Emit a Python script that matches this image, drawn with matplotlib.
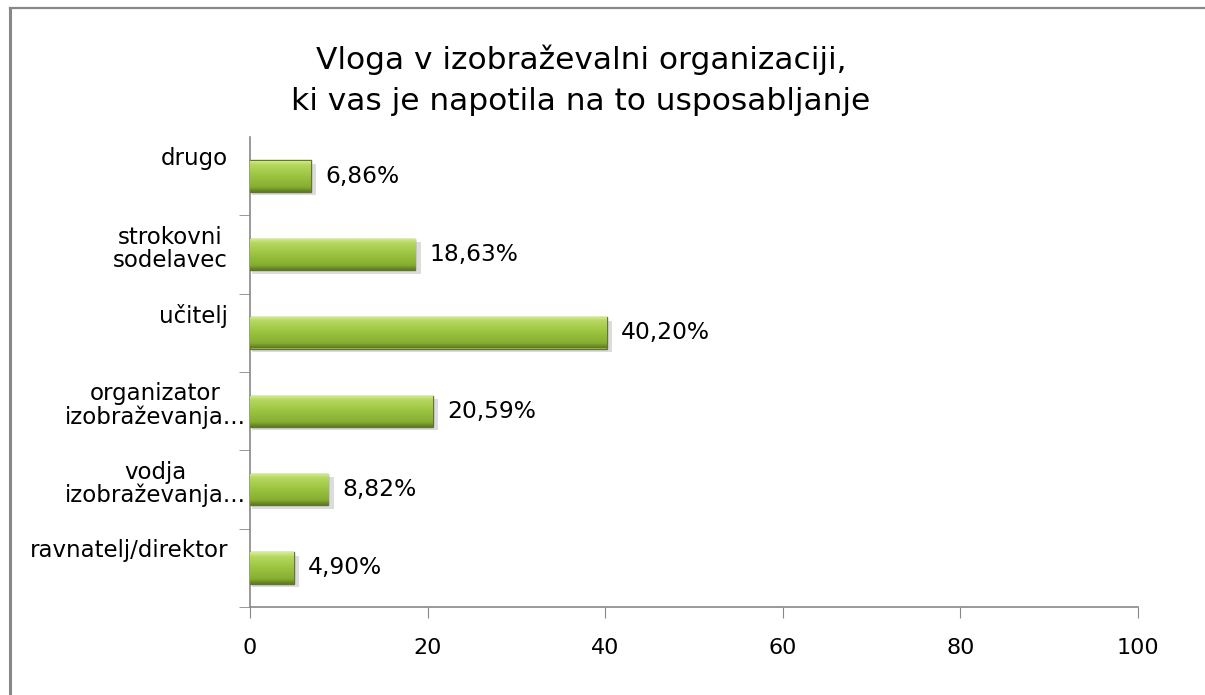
import numpy as np
import matplotlib
matplotlib.use("Agg")
from matplotlib import pyplot as plt
from matplotlib.lines import Line2D
from matplotlib.colors import LinearSegmentedColormap
from matplotlib.transforms import blended_transform_factory, ScaledTranslation

# data (bottom to top)
categories = ["ravnatelj/direktor", "vodja\nizobraževanja...", "organizator\nizobraževanja...",
              "učitelj", "strokovni\nsodelavec", "drugo"]
values = [4.90, 8.82, 20.59, 40.20, 18.63, 6.86]
value_labels = ["4,90%", "8,82%", "20,59%", "40,20%", "18,63%", "6,86%"]
xticks = [0, 20, 40, 60, 80, 100]

title = "Vloga v izobraževalni organizaciji,\nki vas je napotila na to usposabljanje"

plt.rcParams['font.family'] = ['DejaVu Sans']

W, H = 1205, 695
fig = plt.figure(figsize=(W / 100, H / 100), dpi=100)
ax = fig.add_axes([250 / W, 1 - 607 / H, (1138 - 250) / W, (607 - 137) / H])

y = np.arange(len(categories))
bar_h = 0.40
bars = ax.barh(y, values, height=bar_h, color="#9BBB59", edgecolor="#5f7a22", linewidth=1.0, zorder=3)

# soft shadow under the bars
for b in bars:
    ax.barh(b.get_y() + b.get_height() / 2 - 0.045, b.get_width() + 0.35, height=bar_h,
            left=0.25, color="#dcdcdc", zorder=2, linewidth=0)

# gradient fill (light top, dark bottom)
grad = LinearSegmentedColormap.from_list(
    "g", [(0, "#5d7b1c"), (0.15, "#86ad30"), (0.55, "#9fc743"), (0.85, "#b5d660"), (1, "#d6eb99")])
gvals = np.linspace(0, 1, 64).reshape(-1, 1)
for b in bars:
    x0, y0 = b.get_x(), b.get_y()
    w, h = b.get_width(), b.get_height()
    im = ax.imshow(gvals, cmap=grad, aspect="auto", origin="lower",
                   extent=[x0, x0 + w, y0, y0 + h], zorder=3.5)
    im.set_clip_path(b)

for i, (v, lab) in enumerate(zip(values, value_labels)):
    ax.text(v + 1.6, i, lab, va="center", ha="left", fontsize=16.8, color="black", zorder=5)

# category labels (Excel style: right aligned block, near the top of each band)
lab_trans = blended_transform_factory(fig.transFigure, ax.transData)
cat_texts = []
for i, c in enumerate(categories):
    t = ax.text(228 / W, i + 0.37, c, ha="right", va="top", ma="center", fontsize=16.5,
                color="black", linespacing=1.0, transform=lab_trans, clip_on=False)
    cat_texts.append(t)

ax.set_xlim(0, 100)
ax.set_ylim(-0.5, len(categories) - 0.5)
ax.set_xticks(xticks)
ax.set_xticklabels([str(t) for t in xticks], fontsize=16)
ax.set_yticks([])
ax.set_yticks(np.arange(len(categories)) - 0.5, minor=True)
ax.tick_params(axis="y", which="minor", length=8, color="#888888", direction="out")
ax.tick_params(axis="x", length=8, color="#888888", direction="out", pad=14)

for s in ["top", "right"]:
    ax.spines[s].set_visible(False)
for s in ["left", "bottom"]:
    ax.spines[s].set_color("#888888")
    ax.spines[s].set_linewidth(1.2)

fig.text(581 / W, 1 - 80 / H, title, ha="center", va="center", fontsize=22.5,
         linespacing=1.5, color="black")

# outer frame (left and top edges)
fig.add_artist(Line2D([9.5 / W, 9.5 / W], [0, 1 - 8 / H], color="#888888", lw=2.2))
fig.add_artist(Line2D([9.5 / W, 1], [1 - 8 / H, 1 - 8 / H], color="#888888", lw=1.6))

# truncated labels: the trailing "..." hangs past the right edge
fig.canvas.draw()
r = fig.canvas.get_renderer()
dots = fig.text(0, 0, "...", fontsize=16.5)
dots_w = dots.get_window_extent(r).width
dots.remove()
for t in cat_texts:
    if t.get_text().endswith("..."):
        t.set_transform(t.get_transform() + ScaledTranslation(0.8 * dots_w / 100, 0, fig.dpi_scale_trans))

fig.savefig("out.png", dpi=100)
